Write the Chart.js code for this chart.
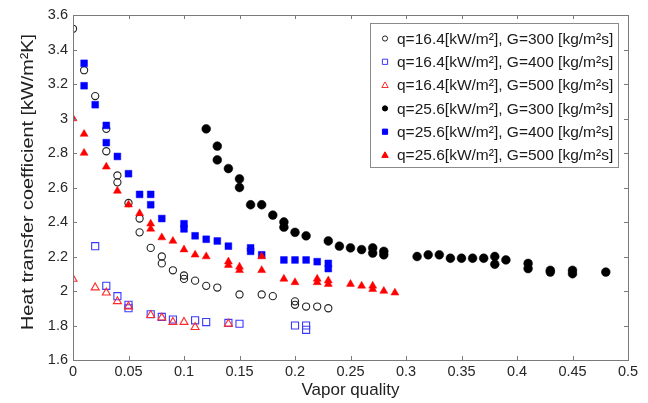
<!DOCTYPE html>
<html>
<head>
<meta charset="utf-8">
<script src="https://cdn.jsdelivr.net/npm/chart.js@4.4.1/dist/chart.umd.min.js"></script>
<style>
  html, body { margin: 0; padding: 0; background: #fff; }
  #wrap { position: relative; width: 648px; height: 403px; }
</style>
</head>
<body>
<div id="wrap"><canvas id="htcChart" width="648" height="403"></canvas></div>
<script>
// Axis ticks
const xTicks = [0, 0.05, 0.1, 0.15, 0.2, 0.25, 0.3, 0.35, 0.4, 0.45, 0.5];
const yTicks = [1.6, 1.8, 2, 2.2, 2.4, 2.6, 2.8, 3, 3.2, 3.4, 3.6];

// Series labels (legend order)
const seriesLabels = [
    "q=16.4[kW/m²], G=300 [kg/m²s]",
    "q=16.4[kW/m²], G=400 [kg/m²s]",
    "q=16.4[kW/m²], G=500 [kg/m²s]",
    "q=25.6[kW/m²], G=300 [kg/m²s]",
    "q=25.6[kW/m²], G=400 [kg/m²s]",
    "q=25.6[kW/m²], G=500 [kg/m²s]"
];

// q=16.4, G=300 (open circles)
const q164g300X = [0, 0.01, 0.02, 0.03, 0.03, 0.04, 0.04, 0.05, 0.06, 0.06, 0.07, 0.08, 0.08, 0.09, 0.1, 0.1, 0.11, 0.12, 0.13, 0.15, 0.17, 0.18, 0.2, 0.2, 0.21, 0.22, 0.23];
const q164g300Y = [3.52, 3.28, 3.13, 2.94, 2.81, 2.67, 2.63, 2.51, 2.42, 2.34, 2.25, 2.20, 2.16, 2.12, 2.09, 2.07, 2.06, 2.03, 2.02, 1.98, 1.98, 1.97, 1.94, 1.92, 1.91, 1.91, 1.90];

// q=16.4, G=400 (open squares)
const q164g400X = [0.02, 0.03, 0.04, 0.05, 0.05, 0.07, 0.08, 0.09, 0.11, 0.12, 0.14, 0.15, 0.2, 0.21, 0.21];
const q164g400Y = [2.26, 2.03, 1.97, 1.92, 1.90, 1.865, 1.85, 1.835, 1.83, 1.82, 1.815, 1.81, 1.80, 1.80, 1.775];

// q=16.4, G=500 (open triangles)
const q164g500X = [0, 0.02, 0.03, 0.04, 0.05, 0.07, 0.08, 0.09, 0.1, 0.11, 0.14];
const q164g500Y = [2.07, 2.02, 1.99, 1.94, 1.91, 1.86, 1.845, 1.82, 1.82, 1.79, 1.81];

// q=25.6, G=300 (filled circles)
const q256g300X = [0.12, 0.13, 0.13, 0.14, 0.15, 0.15, 0.16, 0.17, 0.18, 0.19, 0.19, 0.2, 0.21, 0.23, 0.24, 0.25, 0.26, 0.27, 0.27, 0.28, 0.28, 0.31, 0.32, 0.33, 0.34, 0.35, 0.36, 0.37, 0.38, 0.38, 0.39, 0.41, 0.41, 0.43, 0.43, 0.45, 0.45, 0.48];
const q256g300Y = [2.94, 2.84, 2.76, 2.71, 2.65, 2.60, 2.50, 2.50, 2.44, 2.40, 2.37, 2.34, 2.32, 2.29, 2.26, 2.25, 2.24, 2.25, 2.22, 2.23, 2.21, 2.20, 2.21, 2.21, 2.19, 2.19, 2.19, 2.19, 2.20, 2.155, 2.18, 2.16, 2.13, 2.12, 2.11, 2.12, 2.10, 2.11];

// q=25.6, G=400 (filled squares)
const q256g400X = [0.01, 0.01, 0.02, 0.03, 0.03, 0.04, 0.05, 0.06, 0.07, 0.07, 0.08, 0.1, 0.1, 0.11, 0.12, 0.13, 0.14, 0.16, 0.16, 0.17, 0.19, 0.2, 0.21, 0.22, 0.23, 0.23];
const q256g400Y = [3.32, 3.19, 3.08, 2.96, 2.86, 2.78, 2.68, 2.56, 2.56, 2.50, 2.42, 2.39, 2.36, 2.32, 2.30, 2.29, 2.26, 2.25, 2.23, 2.21, 2.18, 2.18, 2.18, 2.17, 2.16, 2.13];

// q=25.6, G=500 (filled triangles)
const q256g500X = [0, 0.01, 0.01, 0.03, 0.04, 0.05, 0.06, 0.07, 0.07, 0.08, 0.09, 0.1, 0.11, 0.12, 0.14, 0.14, 0.15, 0.15, 0.17, 0.17, 0.19, 0.2, 0.22, 0.22, 0.23, 0.23, 0.25, 0.26, 0.27, 0.27, 0.28, 0.29];
const q256g500Y = [3.00, 2.91, 2.80, 2.72, 2.58, 2.50, 2.45, 2.39, 2.36, 2.31, 2.29, 2.24, 2.21, 2.20, 2.17, 2.15, 2.14, 2.12, 2.20, 2.12, 2.07, 2.05, 2.07, 2.05, 2.06, 2.04, 2.04, 2.03, 2.03, 2.01, 2.00, 1.99];

const FONT = '"Liberation Sans", Arial, sans-serif';

function toPoints(xs, ys) {
    return xs.map((x, i) => ({ x: x, y: ys[i] }));
}

// marker look for each series
const markers = [
    { style: 'circle',   radius: 3.6, fill: 'rgba(0,0,0,0)', stroke: '#222',    width: 1.1 },
    { style: 'rect',     radius: 5,   fill: 'rgba(0,0,0,0)', stroke: '#3a3aff', width: 1.1 },
    { style: 'triangle', radius: 4.6, fill: 'rgba(0,0,0,0)', stroke: '#ff2a2a', width: 1.1 },
    { style: 'circle',   radius: 4.4, fill: '#000',          stroke: '#000',    width: 0.5 },
    { style: 'rect',     radius: 4.8, fill: '#0000ff',       stroke: '#0000ff', width: 0.5 },
    { style: 'triangle', radius: 4.6, fill: '#ff0000',       stroke: '#ff0000', width: 0.5 }
];

const seriesData = [
    toPoints(q164g300X, q164g300Y),
    toPoints(q164g400X, q164g400Y),
    toPoints(q164g500X, q164g500Y),
    toPoints(q256g300X, q256g300Y),
    toPoints(q256g400X, q256g400Y),
    toPoints(q256g500X, q256g500Y)
];

const datasets = seriesData.map((pts, i) => ({
    label: seriesLabels[i],
    data: pts,
    pointStyle: markers[i].style,
    pointRadius: markers[i].radius,
    backgroundColor: markers[i].fill,
    borderColor: markers[i].stroke,
    borderWidth: markers[i].width,
    showLine: false,
    order: 6 - i   // later series drawn on top, like the original
}));

// small legend markers
function legendMarker(ctx, m, x, y) {
    ctx.save();
    ctx.fillStyle = m.fill;
    ctx.strokeStyle = m.stroke;
    ctx.lineWidth = 1;
    ctx.beginPath();
    if (m.style === 'circle') {
        ctx.arc(x, y, 2.6, 0, Math.PI * 2);
    } else if (m.style === 'rect') {
        ctx.rect(x - 2.6, y - 2.6, 5.2, 5.2);
    } else {
        ctx.moveTo(x, y - 3.2);
        ctx.lineTo(x + 3.2, y + 2.4);
        ctx.lineTo(x - 3.2, y + 2.4);
        ctx.closePath();
    }
    ctx.fill();
    ctx.stroke();
    ctx.restore();
}

// box, inward ticks, y title and legend
const framePlugin = {
    id: 'frame',
    afterDatasetsDraw(chart) {
        const ctx = chart.ctx;
        const a = chart.chartArea;
        const xs = chart.scales.x, ys = chart.scales.y;
        ctx.save();
        ctx.strokeStyle = '#7a7a7a';
        ctx.lineWidth = 1;
        ctx.strokeRect(a.left + 0.5, a.top + 0.5, a.right - a.left, a.bottom - a.top);
        ctx.beginPath();
        const tl = 4;
        xTicks.forEach(v => {
            const px = Math.round(xs.getPixelForValue(v)) + 0.5;
            ctx.moveTo(px, a.bottom); ctx.lineTo(px, a.bottom - tl);
            ctx.moveTo(px, a.top); ctx.lineTo(px, a.top + tl);
        });
        yTicks.forEach(v => {
            const py = Math.round(ys.getPixelForValue(v)) + 0.5;
            ctx.moveTo(a.left, py); ctx.lineTo(a.left + tl, py);
            ctx.moveTo(a.right, py); ctx.lineTo(a.right - tl, py);
        });
        ctx.stroke();

        // y axis title, stretched to the original's length
        const title = 'Heat transfer coefficient [kW/m²K]';
        ctx.font = '17px ' + FONT;
        const w = ctx.measureText(title).width;
        ctx.translate(28, 182);
        ctx.rotate(-Math.PI / 2);
        ctx.scale(296 / w, 1);
        ctx.textAlign = 'center';
        ctx.textBaseline = 'middle';
        ctx.fillStyle = '#222';
        ctx.fillText(title, 0, 0);
        ctx.restore();

        // legend
        ctx.save();
        const lx = 370, ly = 23, lw = 248, lh = 144;
        ctx.fillStyle = '#fff';
        ctx.fillRect(lx, ly, lw, lh);
        ctx.strokeStyle = '#8a8a8a';
        ctx.strokeRect(lx + 0.5, ly + 0.5, lw, lh);
        ctx.font = '15.5px ' + FONT;
        ctx.textBaseline = 'middle';
        ctx.textAlign = 'left';
        ctx.fillStyle = '#1a1a1a';
        seriesLabels.forEach((lab, i) => {
            const rowY = 38.5 + i * 23.3;
            legendMarker(ctx, markers[i], 385, rowY);
            ctx.fillText(lab, 397, rowY + 1);
        });
        ctx.restore();
    }
};

const ctx = document.getElementById('htcChart').getContext('2d');
const htcChart = new Chart(ctx, {
    type: 'scatter',
    data: { datasets: datasets },
    options: {
        responsive: false,
        animation: false,
        events: [],
        layout: { padding: { top: 15, right: 20, left: 0, bottom: 0 } },
        plugins: {
            legend: { display: false },
            tooltip: { enabled: false }
        },
        scales: {
            x: {
                type: 'linear',
                min: 0,
                max: 0.5,
                afterBuildTicks: scale => { scale.ticks = xTicks.map(v => ({ value: v })); },
                afterFit: scale => { scale.height = 43; },
                grid: { display: false, drawTicks: false, tickLength: 0 },
                border: { display: false },
                ticks: {
                    padding: 3,
                    maxRotation: 0,
                    autoSkip: false,
                    color: '#262626',
                    font: { family: FONT, size: 14.5 },
                    callback: v => String(Math.round(v * 100) / 100)
                },
                title: {
                    display: true,
                    text: 'Vapor quality',
                    color: '#222',
                    font: { family: FONT, size: 17 },
                    padding: { top: 0, bottom: 2 }
                }
            },
            y: {
                type: 'linear',
                min: 1.6,
                max: 3.6,
                afterBuildTicks: scale => { scale.ticks = yTicks.map(v => ({ value: v })); },
                afterFit: scale => { scale.width = 73; },
                grid: { display: false, drawTicks: false, tickLength: 0 },
                border: { display: false },
                ticks: {
                    padding: 5,
                    autoSkip: false,
                    color: '#262626',
                    font: { family: FONT, size: 14.5 },
                    callback: v => String(Math.round(v * 10) / 10)
                }
            }
        }
    },
    plugins: [framePlugin]
});
</script>
</body>
</html>
